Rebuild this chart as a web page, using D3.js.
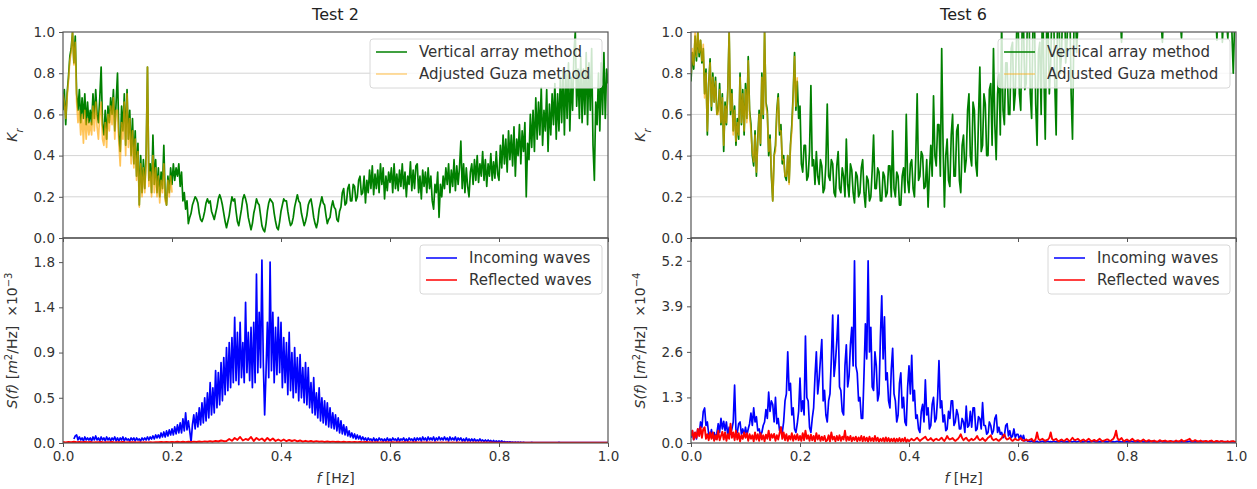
<!DOCTYPE html>
<html>
<head>
<meta charset="utf-8">
<script src="https://cdn.jsdelivr.net/npm/d3@7"></script>
<style>
  body { margin: 0; background: #fff; }
  svg { font-family: "DejaVu Sans", sans-serif; }
</style>
</head>
<body>
<div id="chart"></div>
<script>
// every series is sampled on an even frequency grid from 0 to its last frequency
const titles = ['Test 2', 'Test 6'];
const krTicks = [0, 0.2, 0.4, 0.6, 0.8, 1.0];
const krTickLabels = ['0.0', '0.2', '0.4', '0.6', '0.8', '1.0'];
const fTicks = [0, 0.2, 0.4, 0.6, 0.8, 1.0];
const fTickLabels = ['0.0', '0.2', '0.4', '0.6', '0.8', '1.0'];
const sTicks2 = [0, 0.45, 0.9, 1.35, 1.8];
const sTickLabels2 = ['0.0', '0.5', '0.9', '1.4', '1.8'];
const sTicks6 = [0, 1.3, 2.6, 3.9, 5.2];
const sTickLabels6 = ['0.0', '1.3', '2.6', '3.9', '5.2'];

// Test 2, Kr, vertical array method (0 .. 1 Hz, step 0.0025)
const kr2Vertical = [
  0.62,0.72,0.55,0.70,0.78,0.88,0.92,1.00,0.85,0.98,0.70,0.62,0.72,0.56,0.68,0.58,0.70,0.55,0.66,0.56,
  0.62,0.55,0.70,0.58,0.72,0.60,0.56,0.68,0.83,0.55,0.50,0.62,0.48,0.64,0.56,0.68,0.60,0.72,0.52,0.66,
  0.80,0.50,0.42,0.64,0.52,0.70,0.45,0.72,0.48,0.62,0.40,0.58,0.36,0.52,0.30,0.46,0.16,0.40,0.22,0.38,
  0.24,0.40,0.83,0.28,0.36,0.22,0.50,0.26,0.38,0.22,0.34,0.20,0.32,0.24,0.45,0.20,0.16,0.30,0.22,0.34,
  0.26,0.36,0.28,0.34,0.30,0.36,0.25,0.32,0.18,0.22,0.14,0.18,0.07,0.10,0.12,0.16,0.18,0.20,0.19,0.17,
  0.12,0.09,0.08,0.10,0.13,0.17,0.19,0.17,0.18,0.13,0.11,0.09,0.12,0.15,0.19,0.21,0.19,0.16,0.12,0.08,
  0.05,0.08,0.11,0.16,0.20,0.18,0.19,0.13,0.08,0.06,0.10,0.14,0.19,0.21,0.19,0.16,0.10,0.07,0.04,0.07,
  0.12,0.15,0.19,0.17,0.16,0.11,0.06,0.04,0.03,0.07,0.13,0.17,0.19,0.18,0.17,0.12,0.08,0.05,0.04,0.08,
  0.13,0.16,0.19,0.18,0.18,0.13,0.09,0.06,0.07,0.10,0.15,0.18,0.21,0.18,0.17,0.12,0.09,0.06,0.08,0.11,
  0.16,0.18,0.19,0.15,0.10,0.07,0.05,0.08,0.14,0.17,0.20,0.17,0.16,0.11,0.07,0.09,0.10,0.15,0.18,0.15,
  0.14,0.09,0.08,0.13,0.15,0.22,0.24,0.16,0.17,0.24,0.26,0.18,0.18,0.26,0.25,0.18,0.20,0.28,0.30,0.21,
  0.22,0.30,0.17,0.28,0.22,0.33,0.24,0.35,0.21,0.31,0.24,0.33,0.22,0.36,0.26,0.34,0.19,0.30,0.23,0.32,
  0.27,0.34,0.22,0.36,0.24,0.31,0.23,0.33,0.25,0.36,0.24,0.32,0.20,0.30,0.26,0.37,0.23,0.33,0.24,0.35,
  0.36,0.22,0.30,0.19,0.33,0.25,0.32,0.22,0.34,0.24,0.30,0.18,0.14,0.26,0.22,0.32,0.10,0.26,0.20,0.30,
  0.24,0.34,0.26,0.36,0.22,0.33,0.25,0.38,0.23,0.35,0.26,0.34,0.47,0.24,0.36,0.22,0.34,0.25,0.20,0.32,
  0.36,0.26,0.38,0.28,0.40,0.27,0.36,0.30,0.42,0.28,0.38,0.25,0.36,0.30,0.41,0.28,0.37,0.29,0.42,0.31,
  0.28,0.45,0.34,0.50,0.36,0.48,0.32,0.52,0.38,0.50,0.35,0.54,0.30,0.48,0.40,0.55,0.36,0.52,0.42,0.56,
  0.20,0.46,0.38,0.60,0.44,0.62,0.42,0.68,0.48,0.66,0.50,0.73,0.45,0.62,0.52,0.72,0.42,0.65,0.50,0.70,
  0.55,0.75,0.48,0.70,0.52,0.78,0.56,0.82,0.50,0.80,0.58,0.85,0.52,0.78,0.62,0.90,1.00,0.64,0.82,0.58,
  0.88,0.56,0.82,0.60,0.90,0.55,0.85,0.62,0.92,0.45,0.28,0.66,0.55,0.80,0.52,0.85,0.60,0.90,0.58,0.82,
  0.75];
// Test 2, Kr, adjusted Guza method (0 .. 0.2 Hz)
const kr2Guza = [
  0.70,0.66,0.58,0.68,0.76,0.86,0.90,1.00,0.84,0.95,0.66,0.56,0.62,0.50,0.60,0.46,0.62,0.48,0.58,0.50,
  0.56,0.50,0.64,0.52,0.66,0.54,0.48,0.60,0.66,0.48,0.45,0.56,0.44,0.60,0.52,0.64,0.55,0.68,0.48,0.62,
  0.62,0.46,0.35,0.56,0.48,0.66,0.40,0.70,0.44,0.58,0.36,0.52,0.34,0.48,0.28,0.42,0.15,0.36,0.20,0.34,
  0.22,0.36,0.83,0.25,0.32,0.20,0.40,0.22,0.34,0.20,0.30,0.17,0.28,0.22,0.36,0.18,0.16,0.28,0.20,0.30,
  0.22];

// Test 6, Kr, vertical array method (0 .. 1 Hz)
const kr6Vertical = [
  0.76,0.90,0.82,0.98,0.86,1.00,0.88,0.96,0.85,0.92,0.70,0.82,0.50,0.75,0.87,0.62,0.80,0.66,0.78,0.60,
  0.62,0.75,0.55,0.70,0.42,0.66,0.55,0.72,1.00,0.60,0.72,0.52,0.64,0.45,0.58,0.48,0.80,0.55,0.72,0.50,
  0.75,0.58,0.88,0.62,0.55,0.40,0.35,0.52,0.30,0.48,0.62,0.45,0.80,0.58,1.00,0.66,0.62,0.40,0.50,0.30,
  0.18,0.40,0.45,0.62,0.70,0.50,0.55,0.36,0.40,0.30,0.28,0.40,0.27,0.45,0.55,0.70,0.90,0.62,0.76,0.58,
  0.64,0.36,0.32,0.45,0.45,0.28,0.30,0.42,0.74,0.35,0.38,0.26,0.42,0.30,0.26,0.38,0.35,0.22,0.24,0.36,
  0.65,0.30,0.28,0.38,0.36,0.22,0.20,0.35,0.42,0.24,0.22,0.34,0.30,0.20,0.48,0.26,0.20,0.36,0.33,0.22,
  0.17,0.32,0.30,0.20,0.22,0.34,0.38,0.22,0.15,0.30,0.28,0.18,0.20,0.33,0.50,0.24,0.24,0.34,0.32,0.18,
  0.18,0.32,0.30,0.20,0.22,0.35,0.35,0.20,0.52,0.24,0.20,0.32,0.30,0.16,0.16,0.30,0.34,0.22,0.60,0.28,
  0.22,0.36,0.38,0.24,0.20,0.40,0.70,0.28,0.30,0.42,0.40,0.24,0.25,0.38,0.15,0.32,0.45,0.30,0.69,0.40,
  0.35,0.55,0.55,0.30,0.92,0.45,0.15,0.40,0.48,0.28,0.25,0.50,0.60,0.30,0.30,0.52,0.55,0.28,0.22,0.45,
  0.50,0.32,0.38,0.62,0.70,0.40,0.35,0.66,0.62,0.36,0.30,0.58,0.83,0.42,0.45,0.70,0.65,0.40,0.40,0.72,
  0.75,0.45,0.92,0.55,0.38,0.70,0.80,0.50,1.05,0.62,0.55,0.85,0.85,0.60,0.60,0.92,0.95,0.62,0.70,1.00,
  1.10,0.70,0.62,1.00,1.05,0.72,0.75,1.10,1.15,0.70,0.58,1.05,1.10,0.65,0.45,0.90,0.95,0.60,1.20,0.80,
  0.48,1.00,1.05,0.70,0.85,1.15,1.20,0.75,0.50,1.05,1.10,0.80,0.90,1.20,1.25,0.85,0.95,1.20,1.15,0.70,
  0.48,1.00,1.20,0.90,1.05,1.25,1.30,1.05,1.15,1.35,1.25,1.10,1.10,1.30,1.35,1.15,1.15,1.40,1.30,1.10,
  1.20,1.30,1.40,1.25,1.15,1.35,1.30,1.20,1.10,1.30,1.25,1.15,1.05,1.25,1.30,1.10,0.95,1.15,1.20,1.35,
  1.15,1.25,1.35,1.20,1.20,1.35,1.40,1.20,1.10,1.25,1.30,1.15,1.15,1.30,1.35,1.25,1.20,1.40,1.30,1.20,
  1.15,1.30,1.40,1.20,1.10,1.05,0.95,1.15,1.25,1.35,1.15,1.25,1.35,1.20,1.20,1.35,1.30,1.20,1.15,1.05,
  0.97,1.10,1.25,1.40,1.35,1.20,1.15,1.30,1.40,1.25,1.20,1.35,1.30,1.15,1.10,1.20,1.25,1.35,1.15,1.30,
  1.35,1.20,1.05,1.15,1.25,1.10,0.96,1.20,1.15,1.30,0.95,1.10,1.20,1.05,0.97,1.15,1.10,1.00,0.80,1.05,
  1.15];
// Test 6, Kr, adjusted Guza method (0 .. 0.195 Hz)
const kr6Guza = [
  0.80,0.92,0.84,1.00,0.88,1.00,0.90,0.96,0.86,0.94,0.68,0.80,0.52,0.74,0.85,0.64,0.78,0.66,0.76,0.60,
  0.60,0.72,0.56,0.68,0.45,0.64,0.56,0.70,1.00,0.62,0.70,0.50,0.62,0.47,0.56,0.50,0.78,0.56,0.70,0.52,
  0.72,0.56,0.86,0.60,0.52,0.42,0.37,0.50,0.32,0.46,0.60,0.46,0.78,0.60,1.00,0.64,0.60,0.42,0.48,0.32,
  0.18,0.40,0.42,0.60,0.68,0.52,0.52,0.38,0.38,0.30,0.30,0.40,0.26,0.44,0.52,0.68,0.88,0.64,0.78];

// Test 2, spectra [x1e-3 m^2/Hz] (0 .. 1 Hz), null = no value
const s2Incoming = [
  null,null,null,null,null,null,null,null,0.04,0.07,0.08,0.03,0.06,0.03,0.05,0.02,0.06,0.03,0.05,0.03,
  0.05,0.02,0.06,0.03,0.07,0.03,0.05,0.02,0.06,0.03,0.05,0.02,0.06,0.03,0.05,0.02,0.05,0.03,0.06,0.02,
  0.05,0.02,0.05,0.03,0.06,0.02,0.05,0.03,0.04,0.02,0.05,0.03,0.05,0.02,0.05,0.03,0.04,0.02,0.05,0.03,
  0.05,0.03,0.06,0.03,0.06,0.04,0.07,0.04,0.08,0.05,0.08,0.05,0.10,0.06,0.11,0.06,0.12,0.07,0.13,0.08,
  0.14,0.08,0.16,0.09,0.18,0.10,0.20,0.10,0.24,0.12,0.30,0.13,0.22,0.12,0.01,0.18,0.28,0.14,0.30,0.16,
  0.35,0.18,0.40,0.20,0.45,0.22,0.50,0.25,0.60,0.28,0.55,0.30,0.72,0.35,0.70,0.38,0.80,0.42,0.85,0.48,
  0.95,0.52,1.00,0.55,1.05,0.60,1.25,0.62,1.10,0.58,1.20,0.65,1.00,0.60,1.40,0.70,1.10,0.62,1.15,0.55,
  1.20,0.60,1.68,0.70,1.30,0.75,1.82,0.80,0.28,0.70,1.20,0.65,1.80,0.72,1.30,0.60,1.15,0.68,1.25,0.70,
  1.20,0.55,1.05,0.60,1.00,0.48,1.10,0.52,0.90,0.45,0.95,0.50,0.85,0.42,0.88,0.45,0.75,0.40,0.80,0.38,
  0.75,0.35,0.60,0.30,0.65,0.28,0.50,0.25,0.55,0.22,0.45,0.20,0.42,0.18,0.40,0.16,0.35,0.15,0.30,0.14,
  0.28,0.12,0.25,0.10,0.22,0.09,0.18,0.08,0.16,0.07,0.12,0.06,0.10,0.05,0.09,0.04,0.08,0.04,0.07,0.03,
  0.06,0.03,0.05,0.02,0.05,0.03,0.04,0.02,0.05,0.02,0.04,0.02,0.05,0.03,0.04,0.02,0.04,0.02,0.05,0.02,
  0.04,0.02,0.05,0.03,0.04,0.02,0.05,0.02,0.04,0.03,0.05,0.02,0.04,0.02,0.05,0.03,0.04,0.02,0.05,0.02,
  0.05,0.03,0.05,0.02,0.06,0.03,0.05,0.02,0.06,0.03,0.05,0.03,0.06,0.02,0.05,0.03,0.06,0.03,0.05,0.03,
  0.06,0.03,0.05,0.02,0.06,0.03,0.05,0.03,0.06,0.02,0.05,0.03,0.05,0.02,0.04,0.02,0.05,0.02,0.04,0.02,
  0.04,0.02,0.04,0.02,0.03,0.02,0.04,0.02,0.03,0.015,0.03,0.015,0.03,0.015,0.025,0.01,0.025,0.01,0.02,0.01,
  0.02,0.01,0.02,0.008,0.015,0.008,0.012,0.006,0.012,0.006,0.01,0.005,0.01,0.005,0.008,0.005,0.008,0.004,0.008,0.004,
  0.005,0.004,0.004,0.005,0.006,0.004,0.004,0.005,0.005,0.004,0.004,0.005,0.005,0.003,0.003,0.005,0.005,0.004,0.004,0.005,
  0.005,0.004,0.004,0.005,0.006,0.004,0.004,0.005,0.005,0.004,0.004,0.005,0.005,0.003,0.003,0.005,0.005,0.004,0.004,0.005,
  0.005,0.003,0.003,0.004,0.004,0.003,0.003,0.004,0.005,0.003,0.003,0.004,0.004,0.003,0.003,0.004,0.004,0.003,0.003,0.004,
  0.004];
const s2Reflected = [0.01,0.006,0.01,0.008,0.012,0.008,0.01,0.007,0.011,0.008,0.01,0.006,0.009,0.007,0.01,0.006,0.009,0.007,0.01,0.006,
  0.009,0.007,0.01,0.006,0.008,0.007,0.009,0.006,0.008,0.006,0.009,0.006,0.008,0.006,0.009,0.007,0.01,0.007,0.01,0.008,
  0.011,0.008,0.012,0.009,0.012,0.009,0.013,0.01,0.014,0.01,0.015,0.011,0.016,0.012,0.018,0.013,0.02,0.015,0.025,0.018,
  0.02,0.04,0.022,0.05,0.03,0.06,0.025,0.04,0.03,0.06,0.02,0.05,0.03,0.045,0.02,0.05,0.025,0.045,0.02,0.035,
  0.02,0.035,0.018,0.03,0.02,0.028,0.016,0.025,0.014,0.022,0.014,0.02,0.012,0.018,0.012,0.016,0.01,0.015,0.01,0.014,
  0.01,0.013,0.009,0.012,0.009,0.011,0.008,0.01,0.008,0.01,0.007,0.01,0.007,0.009,0.006,0.009,0.006,0.008,0.006,0.008,
  0.006,0.008,0.006,0.008,0.005,0.007,0.005,0.007,0.005,0.007,0.005,0.006,0.005,0.006,0.005,0.006,0.004,0.006,0.004,0.006,
  0.004,0.006,0.004,0.005,0.004,0.005,0.004,0.005,0.004,0.005,0.004,0.005,0.004,0.005,0.004,0.005,0.003,0.005,0.003,0.004,
  0.003,0.004,0.003,0.004,0.003,0.004,0.003,0.004,0.003,0.004,0.003,0.004,0.003,0.004,0.003,0.004,0.003,0.004,0.003,0.004,
  0.003,0.004,0.003,0.004,0.003,0.004,0.003,0.004,0.003,0.004,0.003,0.004,0.003,0.004,0.003,0.004,0.003,0.004,0.003,0.004,0.003];

// Test 6, spectra [x1e-4 m^2/Hz] (0 .. 1 Hz)
const s6Incoming = [
  0.15,0.35,0.10,0.30,0.12,0.40,0.25,0.60,0.45,0.90,1.00,0.50,0.60,0.25,0.20,0.38,0.15,0.30,0.12,0.28,
  0.55,0.30,0.70,0.40,0.62,0.35,0.60,0.20,0.45,0.25,0.40,0.60,1.65,0.35,0.30,0.55,0.60,0.25,0.40,0.22,
  0.45,0.22,0.40,0.55,0.85,0.50,1.00,0.60,0.75,0.35,0.40,0.22,0.30,0.50,0.60,0.95,0.70,1.45,0.90,1.20,
  1.10,0.60,1.30,0.55,0.70,0.35,0.45,0.30,0.60,1.20,1.40,2.60,1.50,1.70,0.80,1.00,0.40,0.30,0.55,0.90,
  1.85,0.90,1.20,0.80,3.05,1.30,1.20,0.45,0.30,0.70,1.00,1.90,2.60,1.40,1.80,2.40,2.95,1.20,1.50,0.80,
  0.60,1.20,1.40,2.40,3.65,1.90,2.30,2.90,3.65,1.60,1.50,0.90,0.80,2.20,2.80,1.60,1.90,2.80,3.30,2.20,
  5.20,2.20,2.00,1.20,1.30,0.70,0.70,2.00,3.40,2.40,5.20,2.60,3.30,1.60,1.50,2.60,2.20,1.20,1.40,3.00,
  4.20,2.40,3.60,1.80,2.00,1.20,1.00,2.10,2.70,1.40,1.20,0.60,0.80,1.70,2.00,1.00,1.30,0.60,0.50,1.60,
  2.20,1.40,2.50,1.20,1.50,0.70,0.80,0.40,0.30,0.90,1.10,0.60,1.80,0.80,1.00,0.40,0.50,1.10,1.30,0.60,
  0.70,1.30,2.35,1.00,1.20,0.60,0.80,0.35,0.40,0.90,0.70,1.20,1.20,0.50,0.60,0.95,0.80,0.40,0.40,0.70,
  0.60,0.30,1.05,0.45,0.50,0.90,0.45,1.00,1.00,0.35,0.40,0.75,0.70,0.40,1.15,0.50,0.50,0.25,0.30,0.60,
  0.50,0.25,0.35,0.70,0.80,0.30,0.45,0.25,0.30,0.15,0.20,0.50,0.55,0.20,0.35,0.15,0.20,0.40,0.15,0.25,
  0.25,0.10,0.22,0.08,0.22,0.06,0.10,0.05,0.05,0.04,0.06,0.03,0.04,0.03,0.05,0.02,0.03,0.04,0.05,0.03,
  0.03,0.04,0.05,0.03,0.04,0.03,0.05,0.04,0.03,0.04,0.03,0.04,0.05,0.03,0.04,0.03,0.04,0.03,0.05,0.04,
  0.03,0.05,0.04,0.03,0.04,0.05,0.03,0.04,0.03,0.04,0.05,0.03,0.04,0.03,0.04,0.05,0.04,0.03,0.04,0.03,
  0.04,0.03,0.05,0.04,0.03,0.04,0.03,0.05,0.04,0.03,0.04,0.03,0.04,0.05,0.03,0.04,0.03,0.04,0.03,0.04,
  0.03,0.04,0.03,0.05,0.04,0.03,0.04,0.03,0.04,0.03,0.05,0.04,0.03,0.04,0.03,0.04,0.03,0.04,0.05,0.03,
  0.04,0.03,0.04,0.03,0.04,0.05,0.03,0.04,0.03,0.04,0.03,0.04,0.03,0.05,0.04,0.03,0.04,0.03,0.04,0.03,
  0.03,0.04,0.03,0.04,0.03,0.04,0.05,0.03,0.04,0.03,0.04,0.03,0.04,0.03,0.04,0.03,0.05,0.04,0.03,0.04,
  0.03,0.04,0.03,0.04,0.03,0.04,0.03,0.04,0.03,0.05,0.04,0.03,0.04,0.03,0.04,0.03,0.04,0.03,0.04,0.03,
  0.03];
const s6Reflected = [
  0.20,0.35,0.10,0.30,0.15,0.40,0.20,0.45,0.15,0.40,0.45,0.12,0.25,0.08,0.30,0.12,0.30,0.06,0.22,0.10,
  0.35,0.08,0.20,0.32,0.10,0.30,0.06,0.25,0.12,0.55,0.15,0.30,0.08,0.35,0.10,0.28,0.05,0.22,0.12,0.30,
  0.15,0.28,0.06,0.25,0.12,0.22,0.05,0.30,0.10,0.25,0.06,0.28,0.10,0.22,0.05,0.24,0.12,0.35,0.08,0.25,
  0.15,0.26,0.06,0.22,0.10,0.28,0.45,0.12,0.30,0.08,0.25,0.06,0.20,0.10,0.28,0.06,0.22,0.10,0.25,0.08,
  0.20,0.06,0.28,0.08,0.35,0.12,0.22,0.06,0.24,0.08,0.20,0.05,0.28,0.10,0.22,0.06,0.18,0.08,0.20,0.05,
  0.08,0.22,0.05,0.30,0.10,0.18,0.05,0.20,0.08,0.22,0.06,0.18,0.10,0.35,0.06,0.18,0.08,0.20,0.05,0.16,
  0.08,0.18,0.05,0.16,0.07,0.20,0.05,0.18,0.06,0.15,0.04,0.18,0.06,0.14,0.05,0.20,0.06,0.15,0.04,0.12,
  0.06,0.14,0.04,0.16,0.05,0.14,0.04,0.12,0.05,0.13,0.03,0.12,0.05,0.14,0.04,0.12,0.05,0.15,0.03,0.10,
  0.05,0.09,0.12,0.08,0.08,0.12,0.15,0.10,0.06,0.09,0.12,0.15,0.18,0.11,0.08,0.10,0.14,0.09,0.06,0.10,
  0.12,0.09,0.08,0.12,0.15,0.09,0.06,0.12,0.20,0.13,0.10,0.12,0.14,0.09,0.06,0.09,0.12,0.18,0.25,0.14,
  0.08,0.12,0.15,0.09,0.06,0.09,0.12,0.08,0.10,0.14,0.20,0.12,0.08,0.10,0.14,0.09,0.06,0.10,0.15,0.18,
  0.22,0.12,0.08,0.10,0.12,0.08,0.06,0.10,0.14,0.20,0.25,0.14,0.10,0.12,0.15,0.09,0.06,0.09,0.12,0.09,
  0.08,0.11,0.14,0.09,0.06,0.08,0.10,0.07,0.08,0.10,0.12,0.07,0.05,0.12,0.30,0.12,0.08,0.10,0.12,0.08,
  0.06,0.08,0.10,0.15,0.30,0.12,0.08,0.10,0.12,0.07,0.05,0.08,0.10,0.07,0.06,0.09,0.12,0.08,0.05,0.10,
  0.15,0.10,0.08,0.10,0.12,0.08,0.05,0.08,0.10,0.07,0.06,0.09,0.12,0.08,0.05,0.07,0.09,0.06,0.06,0.09,
  0.12,0.08,0.05,0.07,0.08,0.10,0.10,0.07,0.06,0.09,0.12,0.20,0.35,0.14,0.08,0.11,0.14,0.08,0.05,0.08,
  0.10,0.07,0.06,0.09,0.12,0.08,0.05,0.07,0.08,0.06,0.04,0.07,0.10,0.07,0.05,0.06,0.08,0.06,0.04,0.06,
  0.07,0.05,0.03,0.05,0.08,0.06,0.05,0.06,0.07,0.05,0.04,0.05,0.06,0.04,0.03,0.05,0.07,0.05,0.04,0.06,
  0.09,0.06,0.05,0.07,0.08,0.10,0.12,0.07,0.05,0.06,0.08,0.06,0.04,0.05,0.07,0.05,0.03,0.05,0.06,0.04,
  0.04,0.06,0.07,0.04,0.03,0.05,0.06,0.04,0.04,0.05,0.05,0.04,0.03,0.04,0.05,0.03,0.04,0.05,0.05,0.04,
  0.03];

const W = 1257, H = 489;
const svg = d3.select('#chart').append('svg').attr('width', W).attr('height', H);

// panel boxes in px
const cols = [{x0: 63, x1: 608}, {x0: 691, x1: 1236}];
const topRow = {y0: 32, y1: 238};
const botRow = {y0: 238, y1: 443};

let clipId = 0;

function series(values, fEnd) {
  let step = fEnd / (values.length - 1);
  return values.map((v, i) => ({f: i * step, v: v}));
}

function panel(col, row, yDomain, yTicks, yTickLabels, opts) {
  let x = d3.scaleLinear().domain([0, 1]).range([col.x0, col.x1]);
  let y = d3.scaleLinear().domain(yDomain).range([row.y1, row.y0]);
  let g = svg.append('g');

  if (opts.grid) {
    g.append('g').selectAll('line').data(yTicks.filter(t => t > 0 && t < yDomain[1])).enter().append('line')
      .attr('x1', col.x0).attr('x2', col.x1)
      .attr('y1', d => y(d)).attr('y2', d => y(d))
      .attr('stroke', '#d4d4d4').attr('stroke-width', 1);
  }

  let id = 'clip' + (clipId++);
  svg.append('clipPath').attr('id', id).append('rect')
    .attr('x', col.x0).attr('y', row.y0).attr('width', col.x1 - col.x0).attr('height', row.y1 - row.y0);
  let plot = g.append('g').attr('clip-path', `url(#${id})`);

  let line = d3.line().defined(d => d.v != null).x(d => x(d.f)).y(d => y(d.v));
  opts.lines.forEach(s => {
    plot.append('path').datum(series(s.values, s.fEnd))
      .attr('d', line).attr('fill', 'none')
      .attr('stroke', s.color).attr('stroke-opacity', s.opacity || 1)
      .attr('stroke-width', s.width || 1.7).attr('stroke-linejoin', 'round');
  });

  // frame
  g.append('rect').attr('x', col.x0).attr('y', row.y0)
    .attr('width', col.x1 - col.x0).attr('height', row.y1 - row.y0)
    .attr('fill', 'none').attr('stroke', '#555').attr('stroke-width', 1.2);

  // y axis
  let yAxis = d3.axisLeft(y).tickValues(yTicks).tickFormat((d, i) => yTickLabels[i]).tickSize(4).tickPadding(4);
  let ya = g.append('g').attr('transform', `translate(${col.x0},0)`).call(yAxis);
  ya.select('.domain').remove();
  ya.selectAll('line').attr('stroke', '#555');
  ya.selectAll('text').attr('font-size', 13.5).attr('fill', '#333').attr('font-family', 'DejaVu Sans');

  // x axis
  let xAxis = d3.axisBottom(x).tickValues(fTicks).tickFormat((d, i) => opts.xLabels ? fTickLabels[i] : '').tickSize(4).tickPadding(4);
  let xa = g.append('g').attr('transform', `translate(0,${row.y1})`).call(xAxis);
  xa.select('.domain').remove();
  xa.selectAll('line').attr('stroke', '#555');
  xa.selectAll('text').attr('font-size', 13.5).attr('fill', '#333').attr('font-family', 'DejaVu Sans');

  // legend
  let L = opts.legend;
  let lg = g.append('g');
  lg.append('rect').attr('x', L.x).attr('y', row.y0 + 7).attr('width', L.w).attr('height', 49).attr('rx', 3)
    .attr('fill', 'rgba(255,255,255,0.8)').attr('stroke', '#d8d8d8').attr('stroke-width', 1);
  L.items.forEach((it, i) => {
    let yy = row.y0 + 20 + i * 22;
    lg.append('line').attr('x1', L.x + 6).attr('x2', L.x + 37).attr('y1', yy).attr('y2', yy)
      .attr('stroke', it.color).attr('stroke-opacity', it.opacity || 1).attr('stroke-width', 1.5);
    lg.append('text').attr('x', L.x + 49).attr('y', yy + 5).text(it.label)
      .attr('font-size', 15).attr('fill', '#333');
  });
  return {x, y};
}

function yLabel(cx, cy, parts) {
  let t = svg.append('text').attr('transform', `translate(${cx},${cy}) rotate(-90)`)
    .attr('text-anchor', 'middle').attr('font-size', 14).attr('fill', '#333');
  parts.forEach(p => {
    let ts = t.append('tspan').text(p.t);
    if (p.italic) ts.attr('font-style', 'italic');
    if (p.sup) ts.attr('baseline-shift', 'super').attr('font-size', 10);
    if (p.sub) ts.attr('baseline-shift', 'sub').attr('font-size', 10);
  });
}

const green = '#008000', orange = '#ffa500', blue = '#0000ff', red = '#ff0000';
const tests = [
  {title: titles[0], kv: kr2Vertical, kg: kr2Guza, kgEnd: 0.2, si: s2Incoming, sr: s2Reflected,
   sDomain: [0, 2.04], sTicks: sTicks2, sLabels: sTickLabels2, exp: '\u22123'},
  {title: titles[1], kv: kr6Vertical, kg: kr6Guza, kgEnd: 0.195, si: s6Incoming, sr: s6Reflected,
   sDomain: [0, 5.85], sTicks: sTicks6, sLabels: sTickLabels6, exp: '\u22124'}
];

tests.forEach((t, k) => {
  let col = cols[k];
  panel(col, topRow, [0, 1], krTicks, krTickLabels, {
    grid: true, xLabels: false,
    lines: [
      {values: t.kv, fEnd: 1, color: green},
      {values: t.kg, fEnd: t.kgEnd, color: orange, opacity: 0.65}
    ],
    legend: {x: col.x1 - 238, w: 232, items: [
      {label: 'Vertical array method', color: green},
      {label: 'Adjusted Guza method', color: orange, opacity: 0.5}
    ]}
  });
  panel(col, botRow, t.sDomain, t.sTicks, t.sLabels, {
    grid: false, xLabels: true,
    lines: [
      {values: t.si, fEnd: 1, color: blue},
      {values: t.sr, fEnd: 1, color: red, width: 1.9}
    ],
    legend: {x: col.x1 - 188, w: 182, items: [
      {label: 'Incoming waves', color: blue},
      {label: 'Reflected waves', color: red}
    ]}
  });

  let cx = (col.x0 + col.x1) / 2;
  svg.append('text').attr('x', cx).attr('y', 20).attr('text-anchor', 'middle')
    .attr('font-size', 16).attr('fill', '#222').text(t.title);

  let xl = svg.append('text').attr('x', cx).attr('y', 483).attr('text-anchor', 'middle')
    .attr('font-size', 14).attr('fill', '#333');
  xl.append('tspan').attr('font-style', 'italic').text('f');
  xl.append('tspan').text('\u00a0[Hz]');

  let lx = col.x0 - 46;
  yLabel(lx, (topRow.y0 + topRow.y1) / 2, [{t: 'K', italic: true}, {t: 'r', italic: true, sub: true}]);
  yLabel(lx, (botRow.y0 + botRow.y1) / 2, [
    {t: 'S(f)', italic: true}, {t: '\u00a0['}, {t: 'm', italic: true}, {t: '2', sup: true},
    {t: '/Hz]'}, {t: '\u00a0\u00a0\u00d710'}, {t: t.exp, sup: true}
  ]);
});
</script>
</body>
</html>
